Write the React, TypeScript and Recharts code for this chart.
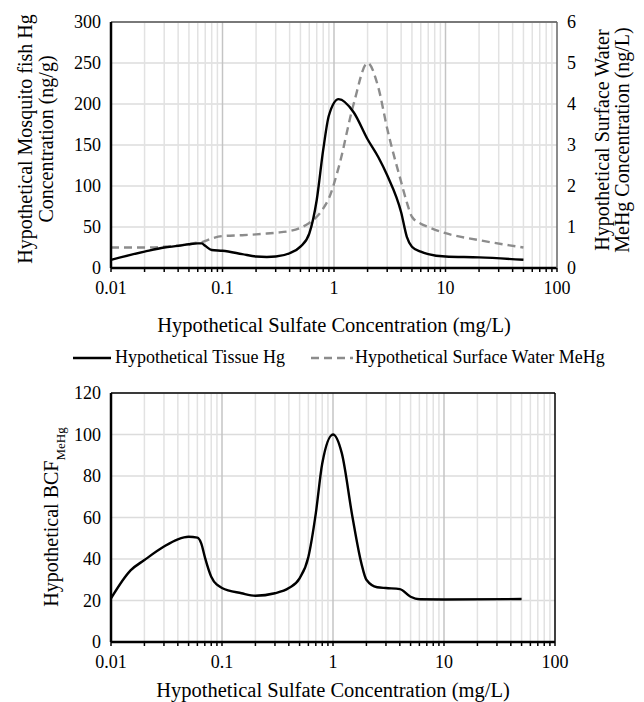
import { LineChart, Line, XAxis, YAxis, CartesianGrid, ReferenceLine } from 'recharts'

const FONT = '"Liberation Serif", "Times New Roman", serif'

// sulfate concentration (mg/L) for the top panel
const sulfate = [0.01, 0.02, 0.03, 0.04, 0.05, 0.06, 0.065, 0.07, 0.08, 0.1, 0.15, 0.2, 0.25, 0.3, 0.4, 0.5, 0.6, 0.7, 0.8, 0.9, 1.1, 1.5, 2, 2.5, 3, 4, 4.5, 5, 6, 7, 10, 20, 50]
// mosquito fish Hg (ng/g), left axis
const tissueHg = [10, 20, 25, 27, 29, 30, 30, 27, 22, 21, 17, 14, 13.5, 14, 18, 26, 42, 83, 144, 186, 206, 190, 157, 135, 113, 68, 38, 26, 20, 17, 14, 13, 10]
// surface water MeHg (ng/L), right axis
const surfaceMeHg = [0.5, 0.5, 0.52, 0.55, 0.58, 0.62, 0.63, 0.66, 0.72, 0.78, 0.8, 0.82, 0.84, 0.86, 0.9, 0.98, 1.1, 1.25, 1.45, 1.7, 2.45, 4.0, 5.0, 4.4, 3.4, 2.1, 1.6, 1.25, 1.08, 1.0, 0.85, 0.68, 0.5]

// bottom panel
const bcfSulfate = [0.01, 0.015, 0.02, 0.03, 0.04, 0.05, 0.06, 0.065, 0.07, 0.08, 0.1, 0.15, 0.2, 0.3, 0.4, 0.5, 0.6, 0.7, 0.8, 1, 1.2, 1.5, 1.8, 2, 2.5, 3, 4, 5, 6, 10, 50]
const bcfMeHg = [21, 34.5, 39.5, 46, 49.5, 50.7, 50.3, 47.5, 41, 31.5, 26, 23.5, 22.3, 23.5, 26, 30.7, 41, 62, 86, 100, 91, 60, 38, 30, 26.4, 26, 25.5, 21.8, 20.6, 20.5, 20.7]

const decadeTicks = [0.01, 0.1, 1, 10, 100]
const minorTicks = [
  0.02, 0.03, 0.04, 0.05, 0.06, 0.07, 0.08, 0.09,
  0.2, 0.3, 0.4, 0.5, 0.6, 0.7, 0.8, 0.9,
  2, 3, 4, 5, 6, 7, 8, 9,
  20, 30, 40, 50, 60, 70, 80, 90,
]
const xTicks = [...decadeTicks, ...minorTicks].sort((a, b) => a - b)
const tissueTicks = [0, 50, 100, 150, 200, 250, 300]
const mehgTicks = [0, 1, 2, 3, 4, 5, 6]
const bcfTicks = [0, 20, 40, 60, 80, 100, 120]

const topData = sulfate.map((s, i) => ({ sulfate: s, tissue: tissueHg[i], mehg: surfaceMeHg[i] }))
const bcfData = bcfSulfate.map((s, i) => ({ sulfate: s, bcf: bcfMeHg[i] }))

const tickStyle = { fontSize: 18, fill: '#000', fontFamily: FONT }

function XTick(props: any) {
  const { x, y, payload } = props
  if (!decadeTicks.includes(payload.value)) return null
  return (
    <text x={x} y={y} dy="0.71em" textAnchor="middle" fontSize={18} fill="#000" fontFamily={FONT}>
      {String(payload.value)}
    </text>
  )
}

function gridLines(yAxisId: string | number) {
  return [
    ...minorTicks.map((v) => (
      <ReferenceLine key={`m${v}`} x={v} yAxisId={yAxisId} stroke="#e2e2e2" strokeWidth={1.5} />
    )),
    ...decadeTicks.slice(1, 4).map((v) => (
      <ReferenceLine key={`d${v}`} x={v} yAxisId={yAxisId} stroke="#c4c4c4" strokeWidth={1.5} />
    )),
  ]
}

export default function App() {
  return (
    <div style={{ position: 'fixed', left: 0, top: 0, width: 644, height: 702, fontFamily: FONT, background: '#fff' }}>
      <div style={{ position: 'absolute', left: 0, top: 0 }}>
        <LineChart width={644} height={340} data={topData} margin={{ top: 22, right: 0, bottom: 0, left: 0 }} style={{ fontFamily: FONT }}>
          <CartesianGrid yAxisId="left" vertical={false} stroke="#dcdcdc" strokeWidth={1.5} />
          {gridLines('left')}
          <XAxis
            dataKey="sulfate"
            type="number"
            scale="log"
            domain={[0.01, 100]}
            ticks={xTicks}
            interval={0}
            height={72}
            tick={<XTick />}
            tickSize={4}
            tickMargin={9}
            tickLine={{ stroke: '#000', strokeWidth: 1.5 }}
            axisLine={{ stroke: '#000', strokeWidth: 2.5 }}
            label={{ value: 'Hypothetical Sulfate Concentration (mg/L)', position: 'insideBottom', offset: 8, fontSize: 20.5, fill: '#000', fontFamily: FONT }}
          />
          <YAxis
            yAxisId="left"
            domain={[0, 300]}
            ticks={tissueTicks}
            width={111}
            tickLine={false}
            tickSize={0}
            tickMargin={10}
            tick={tickStyle}
            axisLine={{ stroke: '#000', strokeWidth: 2.5 }}
            label={{
              content: () => (
                <text transform="rotate(-90, 32, 139)" x={32} y={139} textAnchor="middle" fontSize={20} fill="#000" fontFamily={FONT}>
                  <tspan x={32} dy={0}>Hypothetical Mosquito fish Hg</tspan>
                  <tspan x={32} dy={21}>Concentration (ng/g)</tspan>
                </text>
              ),
            }}
          />
          <YAxis
            yAxisId="right"
            orientation="right"
            domain={[0, 6]}
            ticks={mehgTicks}
            width={87}
            tickLine={false}
            tickSize={0}
            tickMargin={10}
            tick={tickStyle}
            axisLine={{ stroke: '#666', strokeWidth: 1.5 }}
            label={{
              content: () => (
                <text transform="rotate(-90, 609, 140)" x={609} y={140} textAnchor="middle" fontSize={20} fill="#000" fontFamily={FONT}>
                  <tspan x={609} dy={0}>Hypothetical Surface Water</tspan>
                  <tspan x={609} dy={20}>MeHg Concentration (ng/L)</tspan>
                </text>
              ),
            }}
          />
          <ReferenceLine y={300} yAxisId="left" stroke="#555" strokeWidth={1.5} />
          <Line yAxisId="right" type="monotone" dataKey="mehg" stroke="#8c8c8c" strokeWidth={2.4} strokeDasharray="8 5" dot={false} isAnimationActive={false} />
          <Line yAxisId="left" type="monotone" dataKey="tissue" stroke="#000" strokeWidth={2.4} dot={false} isAnimationActive={false} />
        </LineChart>
      </div>

      <div style={{ position: 'absolute', left: 0, top: 346, width: 644, height: 24, fontSize: 18, color: '#000' }}>
        <svg width={644} height={24} style={{ position: 'absolute', left: 0, top: 0 }}>
          <line x1={73} x2={111} y1={12} y2={12} stroke="#000" strokeWidth={2.4} />
          <line x1={311} x2={353} y1={12} y2={12} stroke="#8c8c8c" strokeWidth={2.4} strokeDasharray="8 5" />
        </svg>
        <span style={{ position: 'absolute', left: 115, top: 1, whiteSpace: 'nowrap' }}>Hypothetical Tissue Hg</span>
        <span style={{ position: 'absolute', left: 355, top: 1, whiteSpace: 'nowrap' }}>Hypothetical Surface Water MeHg</span>
      </div>

      <div style={{ position: 'absolute', left: 0, top: 370 }}>
        <LineChart width={644} height={332} data={bcfData} margin={{ top: 23, right: 89, bottom: 0, left: 0 }} style={{ fontFamily: FONT }}>
          <CartesianGrid vertical={false} stroke="#dcdcdc" strokeWidth={1.5} />
          {gridLines(0)}
          <XAxis
            dataKey="sulfate"
            type="number"
            scale="log"
            domain={[0.01, 100]}
            ticks={xTicks}
            interval={0}
            height={60}
            tick={<XTick />}
            tickSize={4}
            tickMargin={9}
            tickLine={{ stroke: '#000', strokeWidth: 1.5 }}
            axisLine={{ stroke: '#000', strokeWidth: 2.5 }}
            label={{ value: 'Hypothetical Sulfate Concentration (mg/L)', position: 'insideBottom', offset: 5, fontSize: 20.5, fill: '#000', fontFamily: FONT }}
          />
          <YAxis
            domain={[0, 120]}
            ticks={bcfTicks}
            width={111}
            tickLine={false}
            tickSize={0}
            tickMargin={10}
            tick={tickStyle}
            axisLine={{ stroke: '#000', strokeWidth: 2.5 }}
            label={{
              content: () => (
                <text transform="rotate(-90, 58, 147)" x={58} y={147} textAnchor="middle" fontSize={20} fill="#000" fontFamily={FONT}>
                  Hypothetical BCF
                  <tspan fontSize={13} dy={7}>MeHg</tspan>
                </text>
              ),
            }}
          />
          <ReferenceLine y={120} stroke="#000" strokeWidth={1.5} />
          <ReferenceLine x={100} stroke="#000" strokeWidth={1.5} />
          <Line type="monotone" dataKey="bcf" stroke="#000" strokeWidth={2.4} dot={false} isAnimationActive={false} />
        </LineChart>
      </div>
    </div>
  )
}
